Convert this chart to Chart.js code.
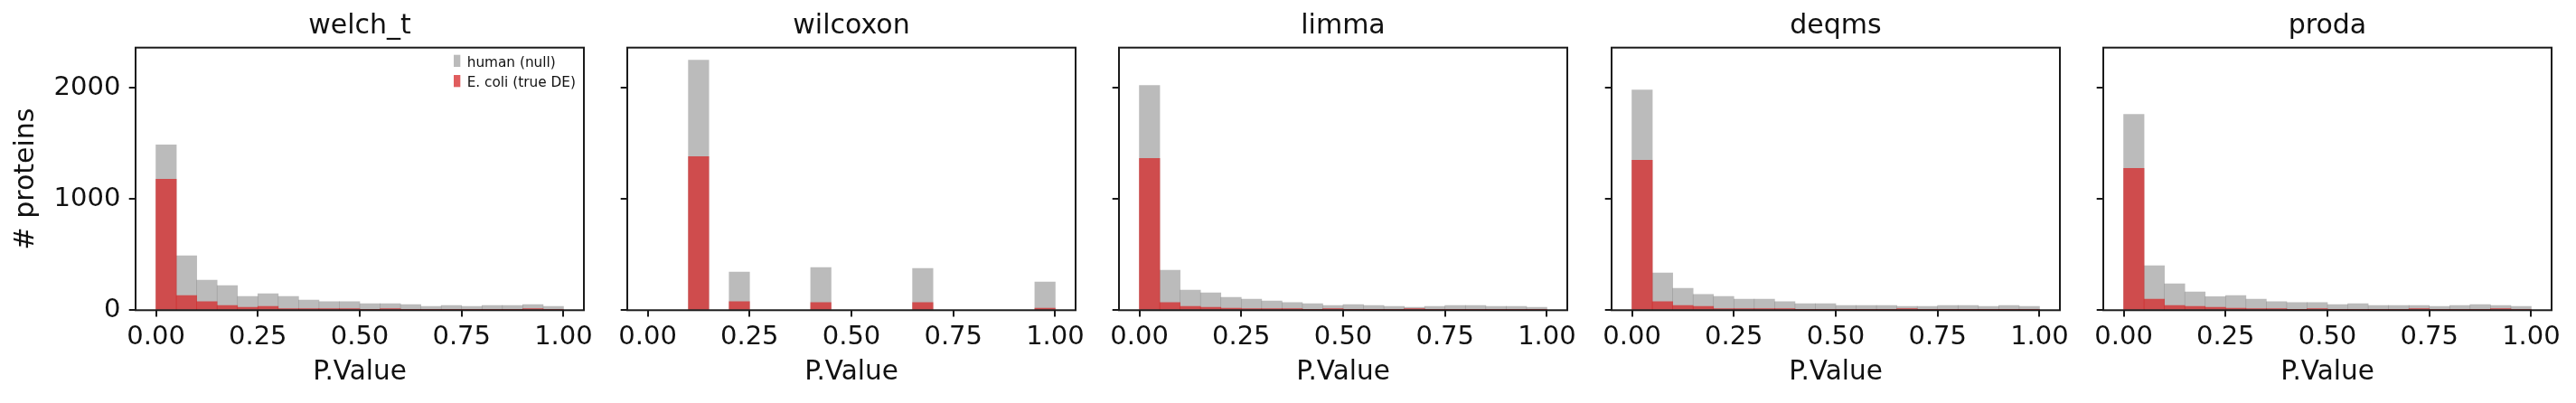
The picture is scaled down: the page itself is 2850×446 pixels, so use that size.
<!DOCTYPE html>
<html>
<head>
<meta charset="utf-8">
<script src="https://cdn.jsdelivr.net/npm/chart.js@4.4.1/dist/chart.umd.min.js"></script>
<style>
  html, body { margin: 0; padding: 0; background: #ffffff; overflow: hidden; }
  #wrap { position: relative; width: 2850px; height: 446px; }
  .panel { position: absolute; top: 0; height: 446px; }
</style>
</head>
<body>
<div id="wrap"></div>
<script>
// ---------------- data ----------------
const binCenters = [0.025, 0.075, 0.125, 0.175, 0.225, 0.275, 0.325, 0.375, 0.425, 0.475,
                    0.525, 0.575, 0.625, 0.675, 0.725, 0.775, 0.825, 0.875, 0.925, 0.975];
const methods = ['welch_t', 'wilcoxon', 'limma', 'deqms', 'proda'];
const seriesLabels = ['human (null)', 'E. coli (true DE)'];
const xTicks = [0, 0.25, 0.5, 0.75, 1];
const yTicks = [0, 1000, 2000];

const welchHuman    = [1487, 489, 270, 222, 124, 149, 124, 92, 76, 76, 59, 59, 51, 35, 43, 35, 43, 43, 51, 35];
const welchEcoli    = [1179, 132, 76, 43, 27, 35, 13, 13, 13, 13, 2, 13, 2, 2, 2, 2, 2, 2, 13, 2];
const wilcoxonHuman = [0, 0, 2249, 0, 343, 0, 0, 0, 384, 0, 0, 0, 0, 376, 0, 0, 0, 0, 0, 254];
const wilcoxonEcoli = [0, 0, 1381, 0, 76, 0, 0, 0, 68, 0, 0, 0, 0, 68, 0, 0, 0, 0, 0, 19];
const limmaHuman    = [2022, 359, 181, 157, 116, 100, 84, 68, 59, 43, 51, 43, 35, 27, 35, 43, 43, 35, 35, 27];
const limmaEcoli    = [1365, 68, 35, 27, 19, 13, 13, 13, 2, 13, 2, 2, 2, 13, 2, 2, 2, 2, 2, 2];
const deqmsHuman    = [1981, 335, 197, 141, 124, 100, 100, 76, 59, 59, 43, 43, 43, 35, 35, 43, 43, 35, 43, 35];
const deqmsEcoli    = [1349, 76, 43, 35, 13, 13, 13, 13, 2, 2, 2, 2, 2, 13, 2, 2, 2, 2, 2, 2];
const prodaHuman    = [1762, 400, 238, 165, 122, 132, 100, 76, 68, 68, 51, 59, 43, 43, 43, 35, 43, 51, 43, 35];
const prodaEcoli    = [1276, 100, 43, 35, 27, 19, 13, 13, 2, 13, 2, 2, 2, 2, 13, 2, 2, 2, 13, 2];

const humanCounts = [welchHuman, wilcoxonHuman, limmaHuman, deqmsHuman, prodaHuman];
const ecoliCounts = [welchEcoli, wilcoxonEcoli, limmaEcoli, deqmsEcoli, prodaEcoli];

// ---------------- style / layout ----------------
const FONT = "'DejaVu Sans', 'Liberation Sans', sans-serif";
const INK = '#111111';
const SPINE = '#1a1a1a';
const GREY = 'rgba(127,127,127,0.53)';
const RED = 'rgba(214,39,40,0.75)';
const AX_LEFT0 = 150, AX_STEP = 544.2, AX_W = 496, Y_W = 150, PAD_R = 24, X_H = 102.7;

const yMax = Math.max(...humanCounts.flat(), ...ecoliCounts.flat()) * 1.05;

const framePlugin = {
  id: 'frame',
  afterDatasetsDraw(chart) {
    const { ctx, chartArea: a } = chart;
    ctx.save();
    ctx.strokeStyle = SPINE;
    ctx.lineWidth = 2;
    ctx.strokeRect(a.left, a.top, a.right - a.left, a.bottom - a.top);
    ctx.restore();
  }
};

const legendPlugin = {
  id: 'innerLegend',
  afterDatasetsDraw(chart, args, o) {
    const { ctx, chartArea: a } = chart;
    ctx.save();
    ctx.font = o.fontSize + 'px ' + FONT;
    ctx.textBaseline = 'alphabetic';
    ctx.textAlign = 'left';
    chart.data.datasets.forEach((ds, i) => {
      const x = a.right - o.right;
      const y = a.top + o.top + i * o.rowGap;
      ctx.fillStyle = ds.backgroundColor;
      ctx.fillRect(x, y, o.boxW, o.boxH);
      ctx.fillStyle = INK;
      ctx.fillText(ds.label, x + o.textGap, y + o.boxH);
    });
    ctx.restore();
  }
};

const wrap = document.getElementById('wrap');

methods.forEach((name, i) => {
  const axLeft = AX_LEFT0 + AX_STEP * i;
  const div = document.createElement('div');
  div.className = 'panel';
  div.style.left = (axLeft - Y_W) + 'px';
  div.style.width = (Y_W + AX_W + PAD_R) + 'px';
  const canvas = document.createElement('canvas');
  div.appendChild(canvas);
  wrap.appendChild(div);

  const gridOpts = {
    display: true, drawOnChartArea: false, drawTicks: true,
    tickLength: 7.3, color: SPINE, lineWidth: 2, offset: false
  };

  new Chart(canvas, {
    type: 'bar',
    data: {
      datasets: [
        { label: seriesLabels[0], data: binCenters.map((x, k) => ({ x, y: humanCounts[i][k] })),
          backgroundColor: GREY, order: 2 },
        { label: seriesLabels[1], data: binCenters.map((x, k) => ({ x, y: ecoliCounts[i][k] })),
          backgroundColor: RED, order: 1 }
      ]
    },
    options: {
      responsive: true,
      maintainAspectRatio: false,
      animation: false,
      devicePixelRatio: 1,
      layout: { padding: { left: 0, right: PAD_R, top: 0, bottom: 0 } },
      datasets: { bar: { grouped: false, categoryPercentage: 1, barPercentage: 1, borderWidth: 0 } },
      plugins: {
        legend: { display: false },
        tooltip: { enabled: false },
        title: {
          display: true, text: name, fullSize: false, color: INK,
          font: { family: FONT, size: 30, weight: 'normal', lineHeight: 1.2 },
          padding: { top: 10.9, bottom: 5.8 }
        },
        innerLegend: { fontSize: 15.3, top: 8, right: 144, rowGap: 22.3, boxW: 7.3, boxH: 13.3, textGap: 14.7 }
      },
      scales: {
        x: {
          type: 'linear', min: -0.05, max: 1.05, offset: false,
          afterBuildTicks: s => { s.ticks = xTicks.map(v => ({ value: v })); },
          afterFit: s => { s.height = X_H; },
          grid: gridOpts,
          border: { display: false },
          ticks: {
            color: INK, padding: 5, maxRotation: 0, autoSkip: false,
            font: { family: FONT, size: 29, lineHeight: 1.2 },
            callback: v => Number(v).toFixed(2)
          },
          title: {
            display: true, text: 'P.Value', color: INK,
            font: { family: FONT, size: 29.5, lineHeight: 1.2 },
            padding: { top: 0, bottom: 15.5 }
          }
        },
        y: {
          type: 'linear', min: 0, max: yMax,
          afterBuildTicks: s => { s.ticks = yTicks.map(v => ({ value: v })); },
          afterFit: s => { s.width = Y_W; },
          grid: gridOpts,
          border: { display: false },
          ticks: {
            display: i === 0, color: INK, padding: 9.3,
            font: { family: FONT, size: 29, lineHeight: 1.2 },
            callback: v => String(v)
          },
          title: {
            display: i === 0, text: '# proteins', color: INK,
            font: { family: FONT, size: 30, lineHeight: 1.2 },
            padding: { top: 11.6, bottom: 0 }
          }
        }
      }
    },
    plugins: i === 0 ? [framePlugin, legendPlugin] : [framePlugin]
  });
});
</script>
</body>
</html>
